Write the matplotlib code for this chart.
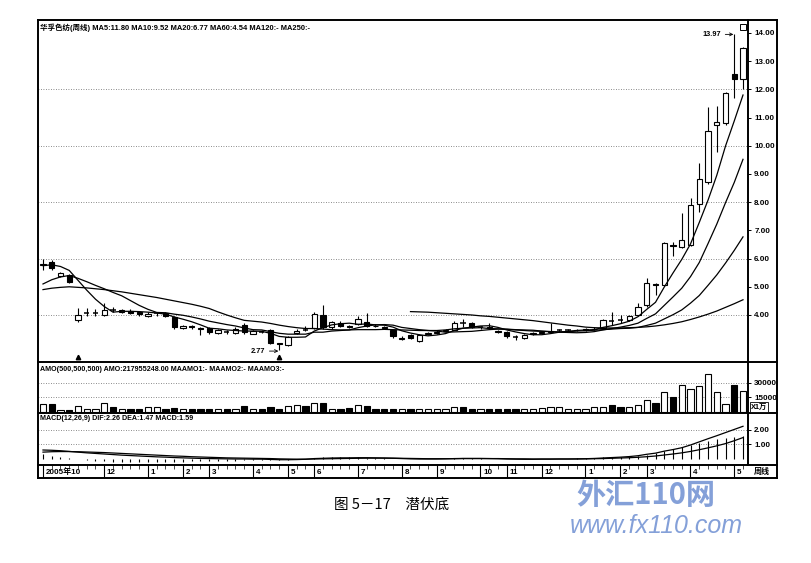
import numpy as np
import matplotlib
matplotlib.use("Agg")
import matplotlib.pyplot as plt
from matplotlib.patches import Rectangle
from matplotlib.lines import Line2D

plt.rcParams['font.family'] = ['Liberation Sans', 'Noto Sans CJK SC', 'DejaVu Sans']

# ---------------- data (weekly candles, 2005-10 .. 2007-05) ----------------
opens = [5.78, 5.88, 5.38, 5.42, 3.82, 4.06, 4.06, 4.00, 4.19, 4.10,
         4.14, 4.10, 3.96, 4.05, 4.07, 3.93, 3.54, 3.62, 3.54, 3.54,
         3.36, 3.41, 3.36, 3.65, 3.34, 3.41, 3.47, 3.00, 2.94, 3.36,
         3.47, 3.54, 4.00, 3.57, 3.72, 3.60, 3.68, 3.76, 3.62, 3.57,
         3.47, 3.15, 3.29, 3.08, 3.32, 3.37, 3.43, 3.47, 3.71, 3.72,
         3.57, 3.56, 3.44, 3.40, 3.23, 3.18, 3.32, 3.37, 3.41, 3.44,
         3.45, 3.46, 3.47, 3.49, 3.54, 3.81, 3.83, 3.82, 4.00, 4.35,
         5.10, 5.06, 6.47, 6.41, 6.48, 7.94, 8.72, 10.74, 10.80, 12.55,
         12.37]
highs = [6.00, 5.95, 5.52, 5.46, 4.25, 4.25, 4.20, 4.43, 4.28, 4.22,
         4.20, 4.14, 4.10, 4.12, 4.10, 3.95, 3.66, 3.66, 3.56, 3.58,
         3.50, 3.46, 3.56, 3.72, 3.45, 3.48, 3.52, 3.02, 3.25, 3.50,
         3.60, 4.10, 4.35, 3.80, 3.78, 3.66, 3.98, 4.07, 3.68, 3.62,
         3.50, 3.26, 3.32, 3.33, 3.40, 3.45, 3.50, 3.80, 3.85, 3.76,
         3.62, 3.70, 3.48, 3.44, 3.28, 3.32, 3.40, 3.44, 3.72, 3.50,
         3.50, 3.52, 3.55, 3.58, 3.86, 4.10, 4.00, 4.00, 4.43, 5.30,
         5.12, 6.60, 6.60, 7.62, 8.15, 9.40, 11.38, 11.41, 11.90, 13.97,
         13.50]
lows = [5.58, 5.60, 5.33, 5.12, 3.75, 3.95, 3.98, 3.98, 4.10, 4.07,
        4.03, 3.98, 3.93, 3.98, 3.93, 3.52, 3.50, 3.52, 3.30, 3.34,
        3.33, 3.33, 3.33, 3.34, 3.32, 3.36, 2.98, 2.77, 2.90, 3.32,
        3.42, 3.50, 3.50, 3.52, 3.58, 3.54, 3.64, 3.58, 3.56, 3.50,
        3.20, 3.10, 3.15, 3.05, 3.28, 3.34, 3.40, 3.45, 3.58, 3.55,
        3.52, 3.50, 3.36, 3.20, 3.10, 3.15, 3.30, 3.34, 3.38, 3.40,
        3.41, 3.42, 3.44, 3.46, 3.52, 3.64, 3.70, 3.78, 3.98, 4.30,
        4.70, 5.02, 6.10, 6.38, 6.45, 7.65, 8.65, 9.78, 10.75, 11.70,
        12.00]
closes = [5.80, 5.67, 5.49, 5.17, 4.00, 4.07, 4.07, 4.18, 4.18, 4.16,
          4.07, 4.02, 4.05, 4.06, 3.97, 3.56, 3.62, 3.58, 3.52, 3.38,
          3.45, 3.40, 3.52, 3.38, 3.42, 3.40, 3.02, 2.98, 3.22, 3.44,
          3.46, 4.05, 3.56, 3.74, 3.62, 3.58, 3.85, 3.62, 3.60, 3.55,
          3.24, 3.20, 3.20, 3.29, 3.36, 3.40, 3.46, 3.72, 3.70, 3.58,
          3.58, 3.54, 3.40, 3.24, 3.22, 3.29, 3.36, 3.40, 3.44, 3.45,
          3.46, 3.48, 3.50, 3.52, 3.82, 3.80, 3.82, 3.96, 4.28, 5.13,
          5.05, 6.55, 6.45, 6.66, 7.90, 8.82, 10.52, 10.84, 11.87, 12.37,
          13.47]

ma5 = [5.75, 5.78, 5.72, 5.58, 5.23, 4.88, 4.56, 4.30, 4.10, 4.13,
       4.13, 4.12, 4.10, 4.07, 4.03, 3.93, 3.85, 3.76, 3.65, 3.53,
       3.51, 3.47, 3.45, 3.43, 3.43, 3.42, 3.35, 3.24, 3.21, 3.21,
       3.22, 3.43, 3.55, 3.65, 3.69, 3.71, 3.67, 3.68, 3.65, 3.64,
       3.57, 3.44, 3.36, 3.30, 3.26, 3.29, 3.34, 3.45, 3.53, 3.57,
       3.61, 3.62, 3.56, 3.47, 3.40, 3.34, 3.30, 3.30, 3.34, 3.39,
       3.42, 3.45, 3.47, 3.48, 3.56, 3.62, 3.69, 3.78, 3.94, 4.20,
       4.45, 4.99, 5.49, 5.97, 6.52, 7.28, 8.07, 8.95, 9.99, 10.88,
       11.80]
ma10 = [5.10, 5.25, 5.35, 5.40, 5.30, 5.18, 5.05, 4.93, 4.80, 4.68,
        4.51, 4.34, 4.20, 4.09, 4.08, 4.03, 3.99, 3.93, 3.86, 3.78,
        3.72, 3.66, 3.61, 3.54, 3.48, 3.47, 3.41, 3.35, 3.32, 3.32,
        3.32, 3.39, 3.39, 3.43, 3.45, 3.47, 3.55, 3.61, 3.65, 3.66,
        3.64, 3.56, 3.52, 3.48, 3.45, 3.43, 3.39, 3.40, 3.41, 3.42,
        3.45, 3.48, 3.50, 3.50, 3.48, 3.47, 3.46, 3.43, 3.41, 3.39,
        3.38, 3.37, 3.38, 3.41, 3.47, 3.52, 3.57, 3.63, 3.71, 3.88,
        4.04, 4.34, 4.64, 4.95, 5.36, 5.86, 6.53, 7.22, 7.98, 8.70,
        9.52]
ma20 = [4.90, 4.95, 4.98, 5.00, 4.98, 4.96, 4.93, 4.90, 4.86, 4.82,
        4.77, 4.72, 4.67, 4.62, 4.56, 4.50, 4.44, 4.38, 4.31, 4.23,
        4.11, 4.00, 3.90, 3.81, 3.78, 3.75, 3.70, 3.64, 3.59, 3.55,
        3.52, 3.52, 3.50, 3.48, 3.47, 3.47, 3.48, 3.48, 3.48, 3.49,
        3.48, 3.47, 3.46, 3.45, 3.45, 3.45, 3.47, 3.51, 3.53, 3.54,
        3.55, 3.52, 3.51, 3.49, 3.47, 3.45, 3.43, 3.42, 3.41, 3.40,
        3.41, 3.43, 3.44, 3.46, 3.48, 3.50, 3.52, 3.53, 3.56, 3.63,
        3.71, 3.86, 4.01, 4.18, 4.42, 4.69, 5.05, 5.42, 5.84, 6.29,
        6.77]
ma60 = [np.nan] * 42 + [
        4.12, 4.11, 4.10, 4.08, 4.06, 4.04, 4.02, 4.00, 3.97, 3.95,
        3.92, 3.89, 3.86, 3.83, 3.80, 3.76, 3.72, 3.68, 3.64, 3.61,
        3.57, 3.55, 3.54, 3.54, 3.54, 3.55, 3.56, 3.58, 3.61, 3.65,
        3.70, 3.76, 3.84, 3.93, 4.03, 4.14, 4.27, 4.40, 4.54]

amo = [8300, 8300, 2000, 2200, 6200, 3000, 3000, 9300, 5200, 3000,
       3000, 3000, 5000, 5200, 3000, 4200, 3000, 3000, 3000, 3000,
       3000, 3000, 3000, 6200, 3000, 3000, 5200, 3000, 6200, 7200,
       6200, 9300, 9300, 3000, 3000, 4200, 7200, 6200, 3000, 3000,
       3000, 3000, 3000, 3000, 3000, 3000, 3000, 5200, 5200, 3000,
       3000, 3000, 3000, 3000, 3000, 3000, 3000, 4200, 5200, 5200,
       3000, 3000, 3000, 5200, 5200, 7200, 5200, 5200, 7200, 12400,
       9300, 20700, 15500, 28000, 23800, 27000, 39000, 20700, 8300, 28000,
       21800]

dif = [0.60, 0.58, 0.55, 0.50, 0.45, 0.40, 0.36, 0.32, 0.28, 0.24,
       0.21, 0.18, 0.15, 0.12, 0.10, 0.07, 0.05, 0.03, 0.01, 0.00,
       -0.01, -0.02, -0.03, -0.03, -0.04, -0.04, -0.06, -0.08, -0.08, -0.07,
       -0.05, 0.00, 0.02, 0.04, 0.05, 0.05, 0.06, 0.06, 0.05, 0.04,
       0.02, 0.00, -0.02, -0.03, -0.03, -0.03, -0.02, 0.00, 0.01, 0.01,
       0.01, 0.00, -0.01, -0.03, -0.04, -0.05, -0.05, -0.04, -0.04, -0.03,
       -0.03, -0.02, -0.01, 0.01, 0.04, 0.07, 0.10, 0.14, 0.20, 0.30,
       0.38, 0.52, 0.63, 0.76, 0.95, 1.17, 1.39, 1.60, 1.82, 2.04,
       2.26]
dea = [0.45, 0.48, 0.49, 0.49, 0.48, 0.46, 0.44, 0.42, 0.39, 0.36,
       0.33, 0.30, 0.27, 0.24, 0.21, 0.18, 0.16, 0.13, 0.11, 0.09,
       0.07, 0.05, 0.04, 0.03, 0.02, 0.01, 0.00, -0.02, -0.03, -0.04,
       -0.04, -0.03, -0.02, -0.01, 0.00, 0.01, 0.02, 0.03, 0.03, 0.03,
       0.03, 0.02, 0.01, 0.00, -0.01, -0.01, -0.01, -0.01, 0.00, 0.00,
       0.00, 0.00, 0.00, -0.01, -0.02, -0.02, -0.03, -0.03, -0.03, -0.03,
       -0.03, -0.03, -0.02, -0.01, 0.00, 0.02, 0.04, 0.06, 0.09, 0.13,
       0.18, 0.25, 0.32, 0.40, 0.50, 0.62, 0.75, 0.89, 1.05, 1.25,
       1.47]
macd = [0.30, 0.20, 0.12, 0.02, -0.06, -0.12, -0.16, -0.20, -0.22, -0.24,
        -0.24, -0.24, -0.24, -0.24, -0.22, -0.22, -0.22, -0.20, -0.20, -0.18,
        -0.16, -0.14, -0.14, -0.12, -0.12, -0.10, -0.12, -0.12, -0.10, -0.06,
        -0.02, 0.06, 0.08, 0.10, 0.10, 0.08, 0.08, 0.06, 0.04, 0.02,
        -0.02, -0.04, -0.06, -0.06, -0.04, -0.04, -0.02, 0.02, 0.02, 0.02,
        0.02, 0.00, -0.02, -0.04, -0.04, -0.06, -0.04, -0.02, -0.02, 0.00,
        0.00, 0.02, 0.02, 0.04, 0.08, 0.10, 0.12, 0.16, 0.20, 0.26,
        0.38, 0.53, 0.66, 0.78, 0.92, 1.08, 1.26, 1.36, 1.44, 1.50,
        1.59]

month_idx = [0, 7, 12, 16, 19, 24, 28, 31, 36, 41, 45, 50, 53, 57, 62, 66, 69, 74, 79]
month_labels = ["2005年10", "12", "1", "2", "3", "4", "5", "6", "7", "8", "9",
                "10", "11", "12", "1", "2", "3", "4", "5"]
price_ticks = [4, 5, 6, 7, 8, 9, 10, 11, 12, 13, 14]
price_grid = [4, 6, 8, 10, 12]
amo_ticks = [15000, 30000]
macd_ticks = [1, 2]
marker_idx = [4, 27]

title_txt = "华孚色纺(周线) MA5:11.80 MA10:9.52 MA20:6.77 MA60:4.54 MA120:- MA250:-"
amo_txt = "AMO(500,500,500) AMO:217955248.00 MAAMO1:- MAAMO2:- MAAMO3:-"
macd_txt = "MACD(12,26,9) DIF:2.26 DEA:1.47 MACD:1.59"
caption = "图 5－17　潜伏底"

# ---------------- layout helpers ----------------
W, H = 811, 563
fig = plt.figure(figsize=(W / 100, H / 100), dpi=100)
fig.patch.set_facecolor('white')


def rect(x0, y0, x1, y1):
    return [x0 / W, 1 - y1 / H, (x1 - x0) / W, (y1 - y0) / H]


def fx(x):
    return x / W


def fy(y):
    return 1 - y / H


n = len(closes)
idx = np.arange(n)
XL = (-0.571, 80.571)
dotted = (0, (1, 2))


def style_axis(ax):
    for s in ax.spines.values():
        s.set_visible(False)
    ax.set_xlim(*XL)
    ax.set_xticks([])
    ax.yaxis.tick_right()
    ax.tick_params(axis='y', right=True, left=False, length=2.5, width=0.7,
                   pad=2, labelsize=5.8, direction='out')
    for t in ax.get_yticklabels():
        t.set_fontweight('bold')
    ax.set_facecolor('none')


# ---------------- price panel ----------------
ax = fig.add_axes(rect(38, 20, 748, 362))
ax.set_ylim(2.333, 14.46)
for g in price_grid:
    ax.axhline(g, color='#666666', lw=0.6, ls=dotted, zorder=1)

w = 0.62
for i in range(n):
    o, h, l, c = opens[i], highs[i], lows[i], closes[i]
    ax.vlines(i, l, h, color='k', lw=0.8, zorder=2)
    if abs(c - o) < 0.0151:
        ax.hlines(c, i - w / 2, i + w / 2, color='k', lw=1.1, zorder=3)
    else:
        up = c > o
        ax.add_patch(Rectangle((i - w / 2, min(o, c)), w, abs(c - o),
                               facecolor='white' if up else 'black',
                               edgecolor='black', lw=0.8, zorder=3))

for m in (ma5, ma10, ma20, ma60):
    ax.plot(idx, m, color='k', lw=0.9, zorder=4)

ax.set_yticks(price_ticks)
ax.set_yticklabels([f"{v:.2f}" for v in price_ticks])
style_axis(ax)

ax.annotate("13.97", xy=(78.9, 13.95), xytext=(77.5, 13.95), ha='right', va='center',
            fontsize=5.3, fontweight='bold',
            arrowprops=dict(arrowstyle='->', lw=0.6, color='k', shrinkA=1, shrinkB=0))
ax.annotate("2.77", xy=(26.9, 2.72), xytext=(25.4, 2.72), ha='right', va='center',
            fontsize=5.3, fontweight='bold',
            arrowprops=dict(arrowstyle='->', lw=0.6, color='k', shrinkA=1, shrinkB=0))
bt = ax.get_xaxis_transform()
for mi in marker_idx:
    ax.plot([mi], [0.014], marker='^', ms=3.2, color='k', transform=bt, clip_on=False)
ax.plot([n - 1], [0.98], marker='s', ms=4, mfc='white', mec='k', mew=0.7,
        transform=bt, clip_on=False)
ax.text(0.003, 0.978, title_txt, transform=ax.transAxes, ha='left', va='center',
        fontsize=5.4, fontweight='bold')

# ---------------- AMO panel ----------------
axa = fig.add_axes(rect(38, 362, 748, 413))
axa.set_ylim(-1034, 51700)
for g in amo_ticks:
    axa.axhline(g, color='#666666', lw=0.6, ls=dotted, zorder=1)
for i in range(n):
    up = closes[i] >= opens[i]
    axa.add_patch(Rectangle((i - 0.36, 0), 0.72, amo[i],
                            facecolor='white' if up else 'black',
                            edgecolor='black', lw=0.8, zorder=3))
axa.set_yticks(amo_ticks)
axa.set_yticklabels([str(v) for v in amo_ticks])
style_axis(axa)
axa.text(0.003, 0.86, amo_txt, transform=axa.transAxes, ha='left', va='center',
         fontsize=5.1, fontweight='bold')

# ---------------- MACD panel ----------------
axm = fig.add_axes(rect(38, 413, 748, 465))
axm.set_ylim(-0.45, 3.19)
for g in macd_ticks:
    axm.axhline(g, color='#666666', lw=0.6, ls=dotted, zorder=1)
axm.vlines(idx, 0, macd, color='k', lw=0.8, zorder=2)
axm.plot(idx, dif, color='k', lw=0.9, zorder=3)
axm.plot(idx, dea, color='k', lw=0.9, zorder=3)
axm.set_yticks(macd_ticks)
axm.set_yticklabels([f"{v:.2f}" for v in macd_ticks])
style_axis(axm)
axm.text(0.003, 0.9, macd_txt, transform=axm.transAxes, ha='left', va='center',
         fontsize=5.1, fontweight='bold')

# ---------------- date strip ----------------
axd = fig.add_axes(rect(38, 465, 777, 478))
axd.set_xlim(XL[0], (777 - 43) / 8.75)
axd.set_ylim(0, 1)
axd.axis('off')
axd.vlines(idx, 0.72, 1.0, color='k', lw=0.5)
for mi, ml in zip(month_idx, month_labels):
    axd.vlines(mi, 0.0, 1.0, color='k', lw=0.8)
    axd.text(mi + 0.3, 0.45, ml, ha='left', va='center', fontsize=5.8, fontweight='bold')
fig.text(fx(754), fy(471.5), "周线", ha='left', va='center', fontsize=5.8, fontweight='bold')

# ---------------- frame lines ----------------
lines = [
    ((38, 777), (20, 20)), ((38, 777), (478, 478)),
    ((38, 38), (20, 478)), ((777, 777), (20, 478)),
    ((748, 748), (20, 465)),
    ((38, 777), (362, 362)), ((38, 777), (413, 413)), ((38, 777), (465, 465)),
]
for xs, ys in lines:
    fig.add_artist(Line2D([fx(xs[0]), fx(xs[1])], [fy(ys[0]), fy(ys[1])],
                          color='k', lw=1.4, transform=fig.transFigure))

fig.text(fx(751), fy(407), "X1万", ha='left', va='center', fontsize=5.3, fontweight='bold',
         bbox=dict(boxstyle='square,pad=0.15', fc='white', ec='k', lw=0.6))

# ---------------- caption & watermark ----------------
fig.text(fx(392), fy(505), caption, ha='center', va='center', fontsize=10.5,
         family=['Noto Sans CJK SC', 'DejaVu Sans'])
fig.text(fx(646), fy(495), "外汇110网", ha='center', va='center', fontsize=21,
         fontweight='bold', color='#6e8fd2', alpha=0.85, zorder=20,
         family=['Noto Sans CJK SC', 'DejaVu Sans'])
fig.text(fx(656), fy(526), "www.fx110.com", ha='center', va='center', fontsize=18,
         style='italic', color='#6e8fd2', alpha=0.85, zorder=20)

fig.savefig("out.png", dpi=100)
